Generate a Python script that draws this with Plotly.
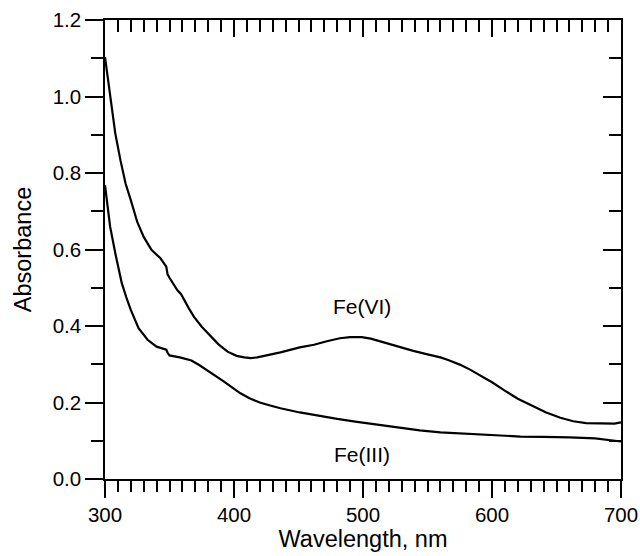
import plotly.graph_objects as go

# Data
fe6_wl = [300, 304, 308, 312, 316, 320, 325, 330, 336, 343, 347.5, 348.5, 350, 356, 359, 365, 369, 375,
          382, 388, 395, 402, 408, 413, 418, 425, 431, 436, 451, 462, 472, 482, 490, 499, 506, 513,
          525, 539, 550, 560, 566, 575, 583, 591, 600, 609, 620, 632, 642, 653, 663, 673, 681, 689, 695, 700]
fe6_abs = [1.103, 1.008, 0.903, 0.833, 0.772, 0.729, 0.672, 0.633, 0.599, 0.577, 0.555, 0.535, 0.526,
           0.494, 0.483, 0.446, 0.424, 0.398, 0.372, 0.352, 0.333, 0.322, 0.318, 0.316, 0.318, 0.323,
           0.329, 0.331, 0.344, 0.351, 0.360, 0.368, 0.371, 0.371, 0.367, 0.360, 0.347, 0.335, 0.326,
           0.318, 0.311, 0.299, 0.286, 0.271, 0.253, 0.233, 0.210, 0.190, 0.174, 0.160, 0.151, 0.146,
           0.145, 0.144, 0.145, 0.148]

fe3_wl = [300, 304, 308, 313, 317, 320, 326, 333, 340, 347.5, 348.5, 350, 358, 367, 373, 379, 385,
          392, 399, 405, 412, 420, 428, 436, 451, 467, 480, 494, 506, 520, 544, 560, 583, 600, 622,
          640, 660, 680, 700]
fe3_abs = [0.768, 0.659, 0.590, 0.512, 0.470, 0.442, 0.394, 0.364, 0.346, 0.338, 0.330, 0.323, 0.318,
           0.310, 0.298, 0.285, 0.270, 0.255, 0.238, 0.224, 0.211, 0.200, 0.192, 0.185, 0.174, 0.164,
           0.157, 0.150, 0.144, 0.138, 0.127, 0.122, 0.118, 0.115, 0.111, 0.110, 0.109, 0.106, 0.098]

labels = ["Fe(VI)", "Fe(III)"]
label_x = [499, 499]
label_y = [0.45, 0.063]

x_range = [300, 700]
y_range = [0, 1.2]

FONT = "Liberation Sans, Arial, Helvetica, sans-serif"

fig = go.Figure()
fig.add_trace(go.Scatter(x=fe6_wl, y=fe6_abs, mode="lines",
                         line=dict(color="black", width=2.2), showlegend=False, hoverinfo="skip"))
fig.add_trace(go.Scatter(x=fe3_wl, y=fe3_abs, mode="lines",
                         line=dict(color="black", width=2.2), showlegend=False, hoverinfo="skip"))
# invisible helper trace to activate the top/right axes
fig.add_trace(go.Scatter(x=x_range, y=y_range, mode="lines", line=dict(width=0, color="rgba(0,0,0,0)"),
                         xaxis="x2", yaxis="y2", showlegend=False, hoverinfo="skip"))

for t, xx, yy in zip(labels, label_x, label_y):
    fig.add_annotation(x=xx, y=yy, text=t, showarrow=False,
                       font=dict(family=FONT, size=21, color="black"))

tick_common = dict(showgrid=False, zeroline=False, showline=True, linecolor="black",
                   linewidth=1.5, tickwidth=1.5, tickcolor="black", automargin=False)

fig.update_layout(
    width=640, height=556,
    margin=dict(l=105, r=19, t=20, b=77),
    paper_bgcolor="white", plot_bgcolor="white",
    font=dict(family=FONT, size=20, color="black"),
    hovermode=False,
    xaxis=dict(range=x_range, ticks="outside", ticklen=17, dtick=100, tick0=300,
               minor=dict(dtick=10, ticks="outside", ticklen=11, tickwidth=1.5, tickcolor="black", showgrid=False),
               title=dict(text="Wavelength, nm", standoff=3, font=dict(size=23.5)),
               tickfont=dict(size=20.5), **tick_common),
    yaxis=dict(range=y_range, ticks="outside", ticklen=18, dtick=0.2, tick0=0, tickformat=".1f",
               minor=dict(dtick=0.1, ticks="outside", ticklen=12, tickwidth=1.5, tickcolor="black", showgrid=False),
               title=dict(text="Absorbance", standoff=14, font=dict(size=23.5)),
               tickfont=dict(size=20.5), **tick_common),
    xaxis2=dict(range=x_range, overlaying="x", side="top", ticks="inside", ticklen=17,
                dtick=100, tick0=300, showticklabels=False,
                minor=dict(dtick=10, ticks="inside", ticklen=12, tickwidth=1.5, tickcolor="black", showgrid=False),
                **tick_common),
    yaxis2=dict(range=y_range, overlaying="y", side="right", ticks="inside", ticklen=18,
                dtick=0.2, tick0=0, showticklabels=False,
                minor=dict(dtick=0.1, ticks="inside", ticklen=12, tickwidth=1.5, tickcolor="black", showgrid=False),
                **tick_common),
)

fig.write_html("out.html", config={"displayModeBar": False},
               post_script="document.body.style.margin='0';document.body.style.overflow='hidden';")
